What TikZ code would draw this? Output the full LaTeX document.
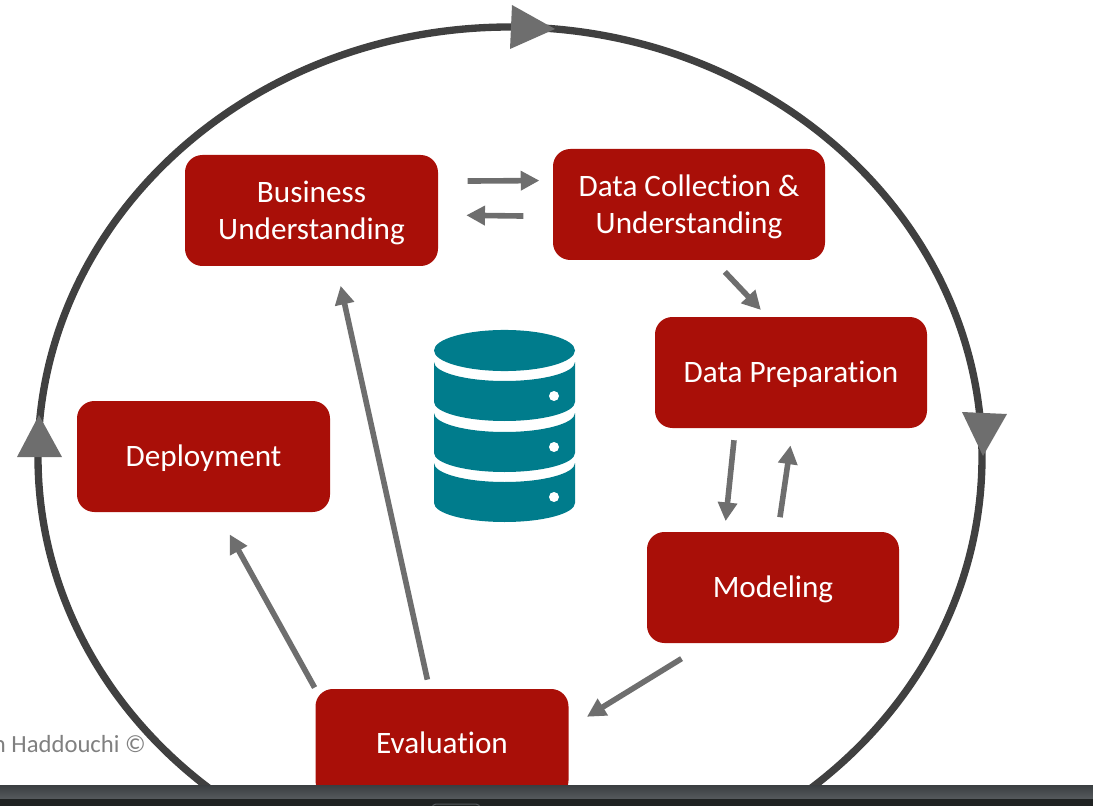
\documentclass[tikz,border=0pt]{standalone}
\usepackage{fontspec}
\setmainfont[Ligatures=NoCommon]{Carlito}
\usetikzlibrary{arrows.meta, positioning}
\definecolor{cred}{HTML}{A90F08}
\definecolor{cgrey}{HTML}{6E6E6E}
\definecolor{cring}{HTML}{404040}
\definecolor{cteal}{HTML}{007C8C}
\definecolor{cbartop}{HTML}{3A3E41}
\definecolor{cbarlow}{HTML}{565A5D}
\definecolor{cbardark}{HTML}{1F2222}
\tikzset{
  phase/.style={fill=cred, text=white, rounded corners=13pt, align=center, inner sep=0pt,
    minimum width=#1*0.75pt, minimum height=83.25pt, font=\fontsize{23.4}{27.75}\selectfont},
  phase/.default=253,
  oneline/.style={text height=20pt, text depth=5pt},
  twoline/.style={text depth=0pt},
  arrow/.style={-{Triangle[length=14pt, width=14pt]}, draw=cgrey, line width=4.2pt},
  ring/.style={draw=cring, line width=5.5pt},
  ringhead/.style={fill=cgrey},
  note/.style={text=black!50, inner sep=0pt, font=\fontsize{18.5}{20}\selectfont},
}
\begin{document}
\begin{tikzpicture}[x=0.75pt, y=-0.75pt]
  \useasboundingbox (0,0) rectangle (1093,806);
  \draw[ring] (510,457) ellipse [x radius=354pt, y radius=322.5pt];
  \fill[ringhead] (512,5) -- (510,49) -- (555,29) -- cycle;
  \fill[ringhead] (962,412) -- (1007,414) -- (983,456) -- cycle;
  \fill[ringhead] (39,415) -- (17,457) -- (62,457) -- cycle;

  \node[phase, twoline] (business) at (311.5,210.5) {Business\\ Understanding};
  \node[phase=272, twoline] (collect) at (689,204.5) {Data Collection \&\\ Understanding};
  \node[phase=272, oneline] (prep) at (791,372.5) {Data Preparation};
  \node[phase, oneline] (deploy) at (203.5,456.5) {Deployment};
  \node[phase=252, oneline] (model) at (773,587.5) {Modeling};
  \node[phase, oneline, minimum height=81.75pt] (eval) at (442,743.5) {Evaluation};
  \node[note, anchor=east] (credit) at (146,744) {n Haddouchi ©};

  \draw[arrow, shorten <=22pt, shorten >=10pt] (business.13) -- (collect.170);
  \draw[arrow, shorten <=22pt, shorten >=21pt] (collect.185) -- (business.-2.5);
  \draw[arrow, shorten <=12pt, shorten >=7pt] (collect.-66.4) -- (prep.113.8);
  \draw[arrow, shorten <=9pt, shorten >=8pt] (prep.225.5) -- (model.131.7);
  \draw[arrow, shorten <=11pt, shorten >=13pt] (model.85.1) -- (prep.272.3);
  \draw[arrow, shorten <=22pt, shorten >=16pt] (model.220.4) -- (eval.7.5);
  \draw[arrow, shorten <=1pt, shorten >=19pt] (eval.north west) -- (deploy.284.7);
  \draw[arrow, shorten <=7pt, shorten >=15pt] (eval.103.2) -- (business.294.3);

  \foreach \y/\d in {362/396, 413/447, 463/497} {
    \fill[cteal] (434,\y) arc[start angle=180, end angle=360, x radius=52.875pt, y radius=14.25pt]
      -- (575,\y+40) arc[start angle=360, end angle=180, x radius=52.875pt, y radius=14.25pt] -- cycle;
    \fill[white] (554,\d) circle [radius=3.75pt];
  }
  \fill[cteal] (504.5,350.5) ellipse [x radius=52.875pt, y radius=15.4pt];

  \shade[top color=cbartop, bottom color=cbarlow] (0,785) rectangle (1093,799);
  \fill[cbardark] (0,799) rectangle (1093,806);
  \draw[cbarlow, line width=0.75pt, rounded corners=3pt] (432,806) |- (480,804) -- (480,806);
\end{tikzpicture}
\end{document}
